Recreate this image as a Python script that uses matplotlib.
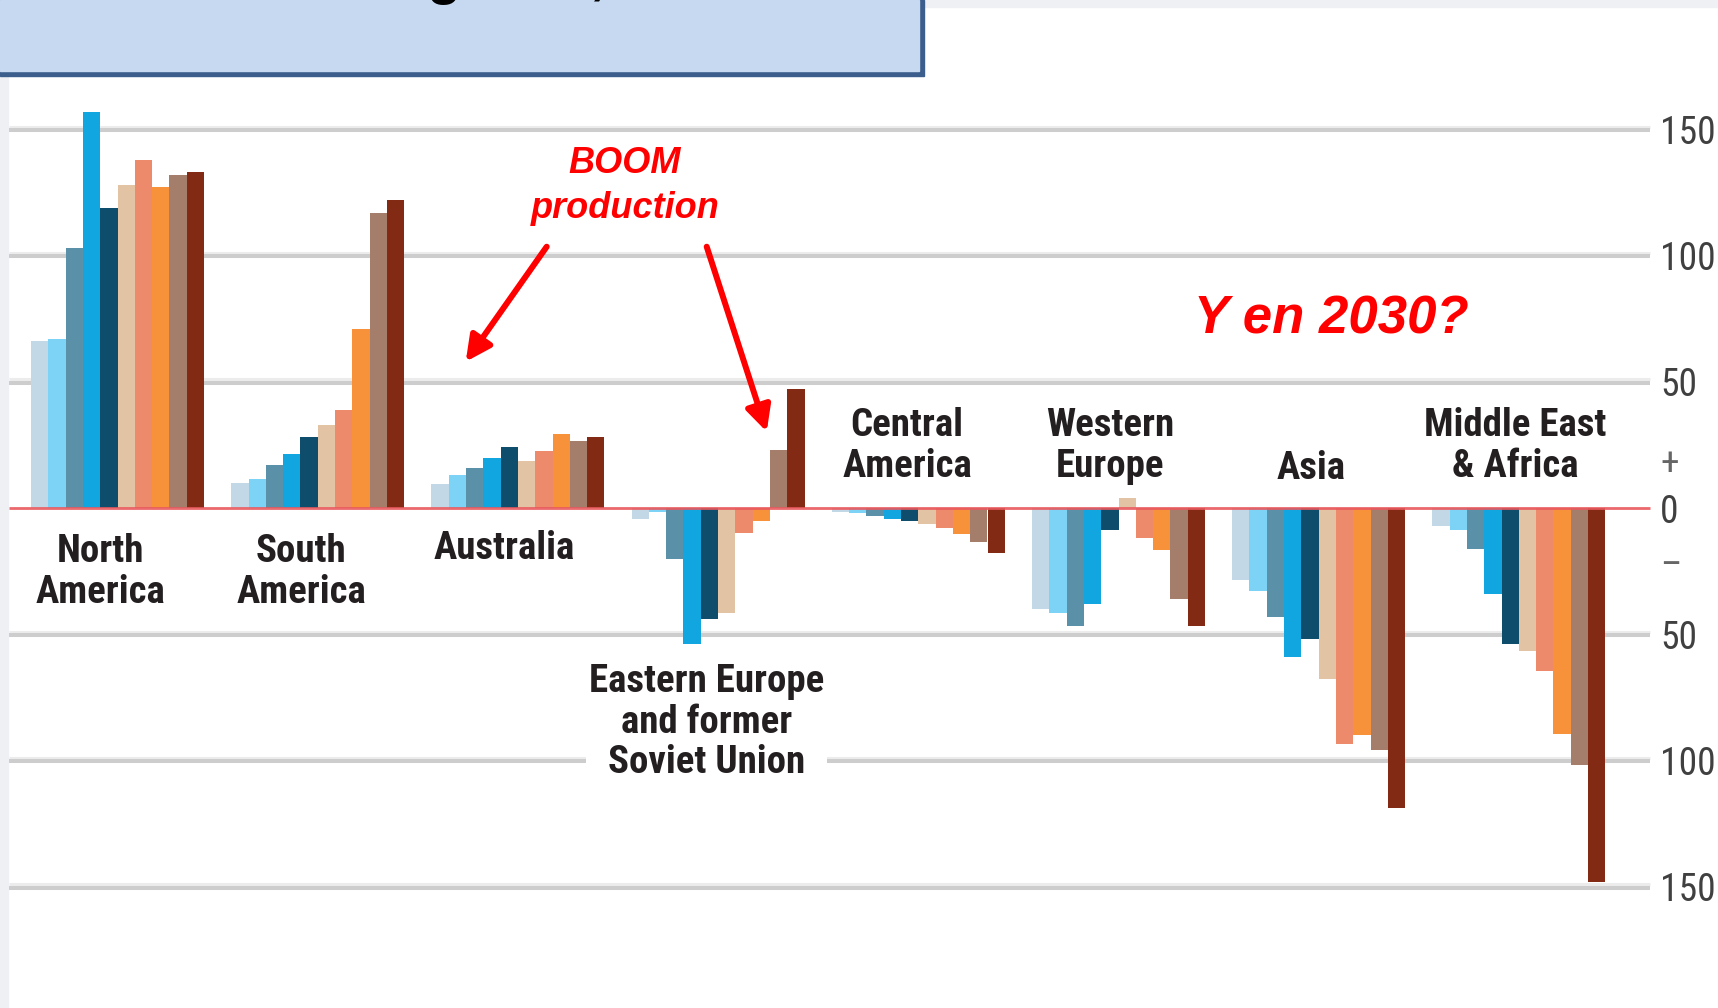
import matplotlib
matplotlib.use("Agg")
import matplotlib.pyplot as plt
from matplotlib import font_manager
from matplotlib.patches import Rectangle

# regions and the ten bars of each one
regions = ["North\nAmerica", "South\nAmerica", "Australia",
           "Eastern Europe\nand former\nSoviet Union", "Central\nAmerica",
           "Western\nEurope", "Asia", "Middle East\n& Africa"]

north_america = [66, 67, 103, 157, 119, 128, 138, 127, 132, 133]
south_america = [10, 11.5, 17, 21.5, 28, 33, 39, 71, 117, 122]
australia = [9.5, 13, 16, 20, 24, 18.5, 22.5, 29.5, 26.5, 28]
eastern_europe = [-4.5, -1.5, -20, -54, -44, -41.5, -10, -5, 23, 47]
central_america = [-1.5, -2, -3, -4.5, -5, -6.3, -8, -10.3, -13.5, -18]
western_europe = [-40, -41.5, -46.7, -38, -8.6, 4, -12, -16.5, -36, -46.7]
asia = [-28.6, -33, -43, -59, -52, -67.6, -93.3, -90, -96, -119]
middle_east_africa = [-7, -8.6, -16.3, -34, -54, -56.5, -64.5, -89.5, -101.8, -148]

values = [north_america, south_america, australia, eastern_europe,
          central_america, western_europe, asia, middle_east_africa]

bar_colors = ["#c2d8e6", "#7dd3f5", "#5b90a9", "#12a6e0", "#0e4e6c",
              "#e2c3a4", "#ec8a6b", "#f7923a", "#a47e6a", "#832a14"]

tick_values = [150, 100, 50, 19, 0, -21, -50, -100, -150]
tick_labels = ["150", "100", "50", "+", "0", "\u2013", "50", "100", "150"]
grid_values = [150, 100, 50, -50, -100, -150]

# layout (pixels of the 1718x1008 picture, y in data units)
W, H = 1718, 1008
ZERO_PX, PX_PER_UNIT = 508, 2.525
BAR_W, GROUP_STEP, FIRST_X = 17.3, 200.2, 31


def ydata(py):
    return (ZERO_PX - py) / PX_PER_UNIT


label_dx = [-16.7, -16.4, -13.9, -11.4, -11.3, -8.5, -7.2, -3.5]
label_y = [-25.4, -25.4, -16.2, -84.8, 24.6, 24.6, 15.6, 24.6]

names = {f.name for f in font_manager.fontManager.ttflist}
narrow = next((n for n in ["Liberation Sans Narrow", "DejaVu Sans Condensed",
                           "Roboto Condensed"] if n in names), "DejaVu Sans")
arial = "Liberation Sans" if "Liberation Sans" in names else "DejaVu Sans"

fig = plt.figure(figsize=(W / 100, H / 100), dpi=100)
ax = fig.add_axes([0, 0, 1, 1])
ax.set_xlim(0, W)
ax.set_ylim(ydata(H), ydata(0))
ax.axis("off")

# page border strips
ax.add_patch(Rectangle((0, ydata(H)), 8, ydata(0) - ydata(H), color="#eef0f3", zorder=0))
ax.add_patch(Rectangle((0, ydata(7)), W, ydata(0) - ydata(7), color="#eef0f3", zorder=0))

# gridlines
for g in grid_values:
    ax.hlines(g + 0.9, 9, 1650, color="#ececec", lw=2.2, zorder=1)
    ax.hlines(g - 0.3, 9, 1650, color="#cdcdcd", lw=2.9, zorder=1)

# bars
for gi, vals in enumerate(values):
    x0 = FIRST_X + gi * GROUP_STEP
    xs = [x0 + i * BAR_W for i in range(len(vals))]
    ax.bar(xs, vals, width=BAR_W, align="edge", color=bar_colors,
           linewidth=0, zorder=2)
    cx = x0 + 5 * BAR_W + label_dx[gi]
    bbox = None
    if gi == 3:
        bbox = dict(facecolor="white", edgecolor="none", pad=2)
    ax.text(cx, label_y[gi], regions[gi], ha="center", va="center",
            family=narrow, fontweight="bold", fontsize=28, color="#231f20",
            linespacing=1.13, zorder=3, bbox=bbox)

# zero line
ax.hlines(0, 9, 1650, color="#e9585d", lw=2.0, alpha=0.9, zorder=4)

# right-hand scale
for v, t in zip(tick_values, tick_labels):
    ax.text(1660, v - 1.6, t, ha="left", va="center", family=narrow,
            fontsize=27, color="#404040" if t not in "+\u2013" else "#666666")

# annotations
red = "#ff0000"
ax.text(625, ydata(173), "BOOM", ha="center", va="baseline", family=arial,
        fontweight="bold", style="italic", fontsize=26, color=red)
ax.text(625, ydata(218), "production", ha="center", va="baseline", family=arial,
        fontweight="bold", style="italic", fontsize=26, color=red)
ax.text(1331, ydata(333), "Y en 2030?", ha="center", va="baseline", family=arial,
        fontweight="bold", style="italic", fontsize=38, color=red)

arrow = dict(arrowstyle="-|>", color=red, lw=4.3, mutation_scale=38,
             shrinkA=0, shrinkB=0)
ax.annotate("", xy=(465.7, ydata(361.7)), xytext=(546.7, ydata(246.7)),
            arrowprops=arrow, zorder=5)
ax.annotate("", xy=(766.7, ydata(431.7)), xytext=(706.7, ydata(246.7)),
            arrowprops=arrow, zorder=5)

# title box, cut by the top edge as in the source slide
ax.add_patch(Rectangle((0, ydata(76)), 924, ydata(0) - ydata(76), color="#3b5e8c", zorder=5))
ax.add_patch(Rectangle((0, ydata(71)), 919, ydata(0) - ydata(71), color="#c6d9f0", zorder=5))
ax.text(606, ydata(-7), "Balance energético,", ha="right", va="baseline",
        family=arial, fontweight="bold", fontsize=40, color="black", zorder=6)

fig.savefig("out.png", dpi=100)
